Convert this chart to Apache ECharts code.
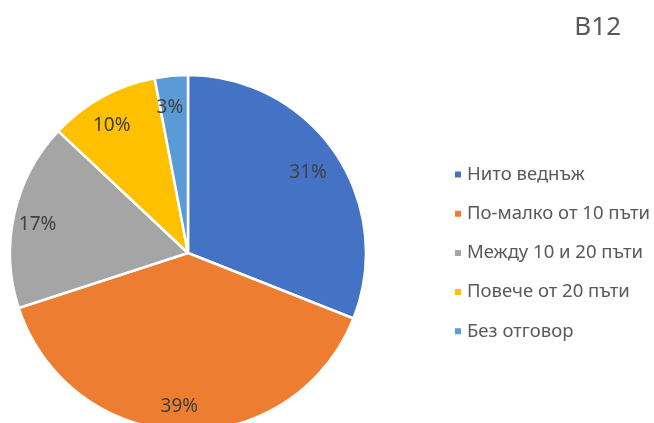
<!DOCTYPE html>
<html>
<head>
<meta charset="utf-8">
<script src="https://cdn.jsdelivr.net/npm/echarts@6/dist/echarts.min.js"></script>
<style>
  html, body { margin: 0; padding: 0; background: #fff; }
  #chart { width: 654px; height: 423px; }
</style>
</head>
<body>
<div id="chart"></div>
<script>
const categories = ['Нито веднъж', 'По-малко от 10 пъти', 'Между 10 и 20 пъти', 'Повече от 20 пъти', 'Без отговор']
const values = [31, 39, 17, 10, 3]
const colors = ['#4472c4', '#ed7d31', '#a5a5a5', '#ffc000', '#5b9bd5']

const chart = echarts.init(document.getElementById('chart'))
const font = '"Noto Sans", "Open Sans", sans-serif'

const pieData = categories.map((name, i) => ({ name: name, value: values[i] }))

chart.setOption({
  animation: false,
  color: colors,
  title: {
    text: 'B12',
    right: 28,
    top: 10,
    textStyle: { color: '#595959', fontSize: 26, fontWeight: 'normal', fontFamily: font }
  },
  legend: {
    orient: 'vertical',
    left: 448,
    top: 160,
    itemWidth: 8,
    itemHeight: 8,
    itemGap: 20.2,
    icon: 'rect',
    data: categories,
    textStyle: { color: '#595959', fontSize: 18.5, fontFamily: font }
  },
  series: [
    {
      // visible slices
      type: 'pie',
      center: [188, 253],
      radius: [0, 178],
      startAngle: 90,
      data: pieData,
      itemStyle: { borderColor: '#fff', borderWidth: 2.5 },
      label: { show: false },
      labelLine: { show: false },
      emphasis: { scale: false }
    },
    {
      // label ring only, so percentages sit near the outer edge
      type: 'pie',
      center: [188, 253],
      radius: [116, 178],
      startAngle: 90,
      silent: true,
      data: pieData,
      itemStyle: { color: 'rgba(0,0,0,0)' },
      label: {
        show: true,
        position: 'inside',
        formatter: '{c}%',
        color: '#404040',
        fontSize: 19,
        fontFamily: font,
        offset: [-4, 4]
      },
      labelLine: { show: false },
      emphasis: { disabled: true }
    }
  ]
})
</script>
</body>
</html>
